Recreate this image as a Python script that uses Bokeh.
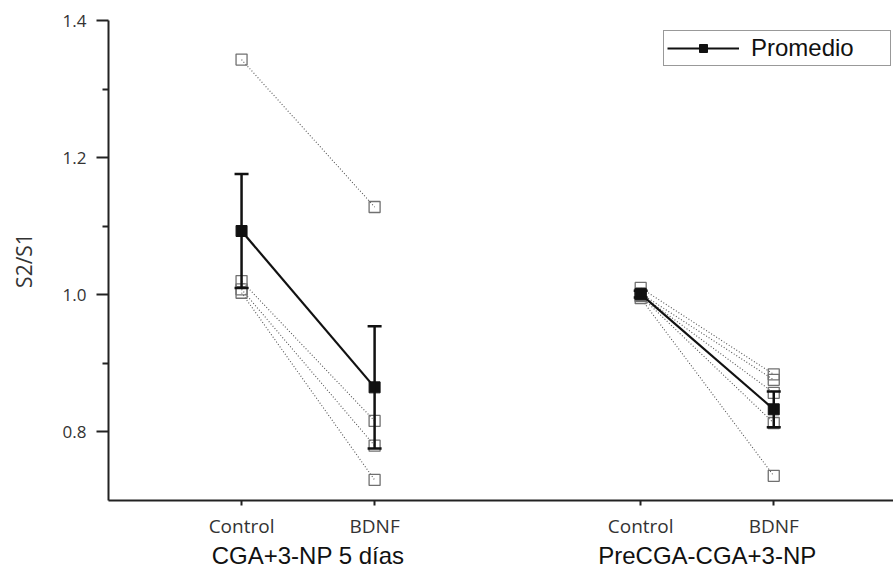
from bokeh.plotting import figure
from bokeh.models import (ColumnDataSource, Whisker, TeeHead, FixedTicker, LinearAxis,
                          Range1d, Legend, LegendItem, PrintfTickFormatter)
from bokeh.embed import file_html
from bokeh.resources import INLINE

# ---- data ----
x_pos = [1, 2, 4, 5]
tick_labels = ["Control", "BDNF", "Control", "BDNF"]
group_pos = [1.5, 4.5]
group_labels = ["CGA+3-NP 5 días", "PreCGA-CGA+3-NP"]

ctrl1 = [1.343, 1.020, 1.008, 1.003]
bdnf1 = [1.128, 0.816, 0.780, 0.730]
ctrl2 = [1.010, 1.002, 1.000, 0.998, 0.995]
bdnf2 = [0.884, 0.876, 0.857, 0.813, 0.736]

mean1 = [1.093, 0.865]
err1 = [0.083, 0.089]
mean2 = [1.001, 0.833]
err2 = [0.005, 0.026]

y_ticks = [0.8, 1.0, 1.2, 1.4]
y_minor = [0.9, 1.1, 1.3]

p = figure(frame_width=785, frame_height=480, min_border_left=108, min_border_top=20,
           min_border_right=0, min_border_bottom=68,
           x_range=Range1d(0.0, 5.9), y_range=Range1d(0.7, 1.4),
           output_backend="svg", toolbar_location=None)
p.outline_line_color = None
p.xgrid.visible = False
p.ygrid.visible = False
p.background_fill_color = "white"
p.border_fill_color = "white"

dot_col = "#555555"
sq_col = "#707070"

# individual subjects
for cx, bx, cvals, bvals in [(x_pos[0], x_pos[1], ctrl1, bdnf1), (x_pos[2], x_pos[3], ctrl2, bdnf2)]:
    for c, b in zip(cvals, bvals):
        p.line([cx, bx], [c, b], line_color=dot_col, line_width=1.1, line_dash="1 2")
    p.scatter([cx] * len(cvals), cvals, marker="square", size=11, fill_color=None,
              line_color=sq_col, line_width=1.3)
    p.scatter([bx] * len(bvals), bvals, marker="square", size=11, fill_color=None,
              line_color=sq_col, line_width=1.3)

# means
legend_renderers = []
for xs, m, e in [(x_pos[0:2], mean1, err1), (x_pos[2:4], mean2, err2)]:
    src = ColumnDataSource(dict(x=xs, m=m, lo=[a - b for a, b in zip(m, e)],
                                hi=[a + b for a, b in zip(m, e)]))
    ln = p.line("x", "m", source=src, line_color="#111111", line_width=2.2)
    w = Whisker(base="x", lower="lo", upper="hi", source=src, level="glyph",
                line_color="#111111", line_width=2.5,
                upper_head=TeeHead(size=14, line_color="#111111", line_width=2.5),
                lower_head=TeeHead(size=14, line_color="#111111", line_width=2.5))
    p.add_layout(w)
    sc = p.scatter("x", "m", source=src, marker="square", size=11,
                   fill_color="#111111", line_color="#111111")
    if not legend_renderers:
        legend_renderers = [ln, sc]

# axes
xa = p.xaxis[0]
xa.ticker = FixedTicker(ticks=x_pos)
xa.major_label_overrides = {x: t for x, t in zip(x_pos, tick_labels)}
xa.minor_tick_line_color = None
xa.major_tick_in = 0
xa.major_tick_out = 5
xa.axis_line_width = 2
xa.axis_line_color = "#222222"
xa.major_tick_line_width = 2
xa.major_tick_line_color = "#222222"
xa.major_label_text_font = "Open Sans"
xa.major_label_text_font_size = "19px"
xa.major_label_text_color = "#333333"
xa.major_label_standoff = 7

ga = LinearAxis(ticker=FixedTicker(ticks=group_pos),
                major_label_overrides={x: t for x, t in zip(group_pos, group_labels)})
ga.axis_line_color = None
ga.major_tick_line_color = None
ga.minor_tick_line_color = None
ga.major_tick_out = 0
ga.major_tick_in = 0
ga.major_label_text_font = "Liberation Sans"
ga.major_label_text_font_size = "24px"
ga.major_label_text_color = "#111111"
ga.major_label_standoff = 0
p.add_layout(ga, "below")

ya = p.yaxis[0]
ya.ticker = FixedTicker(ticks=y_ticks, minor_ticks=y_minor)
ya.formatter = PrintfTickFormatter(format="%.1f")
ya.axis_line_width = 2
ya.axis_line_color = "#222222"
ya.major_tick_in = 0
ya.major_tick_out = 12
ya.major_tick_line_width = 2
ya.major_tick_line_color = "#222222"
ya.minor_tick_in = 0
ya.minor_tick_out = 6
ya.minor_tick_line_width = 2
ya.minor_tick_line_color = "#222222"
ya.major_label_text_font = "Open Sans"
ya.major_label_text_font_size = "17px"
ya.major_label_text_color = "#333333"
ya.major_label_standoff = 10
ya.axis_label = "S2/S1"
ya.axis_label_text_font = "Open Sans"
ya.axis_label_text_font_size = "21px"
ya.axis_label_text_font_style = "normal"
ya.axis_label_text_color = "#333333"
ya.axis_label_standoff = 22

legend = Legend(items=[LegendItem(label="Promedio", renderers=legend_renderers)],
                location=(555, 434), margin=0, padding=3, glyph_width=72, glyph_height=20,
                label_standoff=12, label_width=136, label_height=23,
                label_text_font="Liberation Sans", label_text_font_size="24px",
                label_text_color="#111111",
                border_line_color="#333333", border_line_width=1.5,
                background_fill_color="white", background_fill_alpha=1)
p.add_layout(legend)

open("out.html", "w").write(file_html(p, INLINE))
